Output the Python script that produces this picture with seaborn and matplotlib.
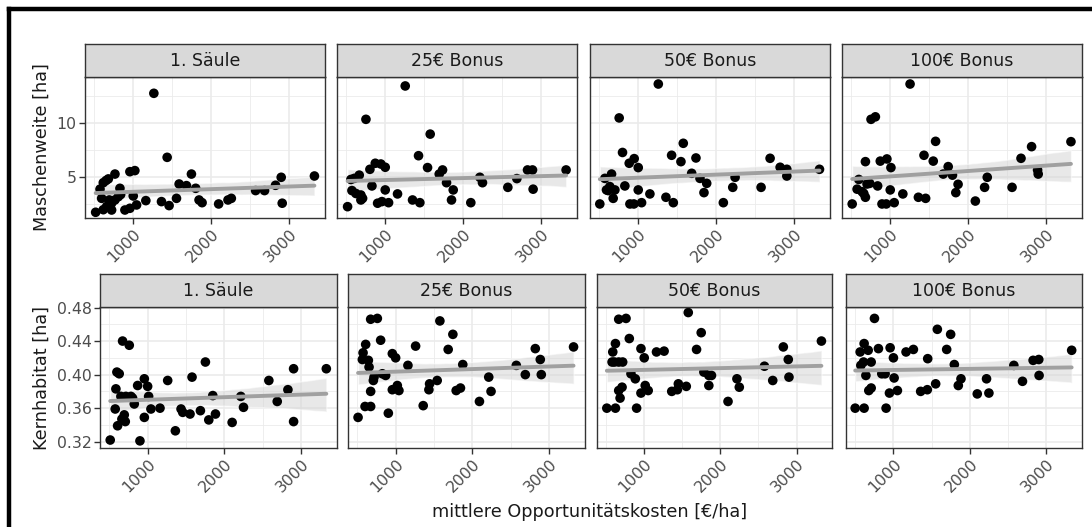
"""
Facetted scatter plots with linear fit: Maschenweite / Kernhabitat vs. Opportunitaetskosten.
"""

import numpy as np
import pandas as pd
import matplotlib
matplotlib.use("Agg")
import matplotlib.pyplot as plt
import seaborn as sns

### Data ###

FACETS = ["1. Säule", "25€ Bonus", "50€ Bonus", "100€ Bonus"]

# Maschenweite [ha]
mw_x_saeule = [517, 573, 594, 615, 650, 680, 765, 615, 658, 722, 722, 692, 765, 829, 838, 808,
               893, 957, 957, 1021, 1000, 1043, 1162, 1265, 1363, 1436, 1461, 1556, 1590, 1684,
               1748, 1803, 1846, 1885, 2098, 2218, 2261, 2573, 2688, 2829, 2902, 2915, 3329]
mw_y_saeule = [1.76, 3.9, 3.05, 4.5, 4.7, 4.85, 5.3, 2.0, 2.3, 2.6, 1.97, 2.9, 2.9, 3.98, 3.4, 3.2,
               1.97, 2.13, 5.52, 5.62, 3.27, 2.44, 2.84, 12.78, 2.75, 6.85, 2.38, 3.05, 4.38, 4.23,
               5.3, 3.98, 2.9, 2.65, 2.53, 2.9, 3.05, 3.77, 3.77, 4.26, 5.0, 2.6, 5.12]

mw_x_25 = [516, 559, 602, 666, 572, 623, 687, 709, 687, 752, 803, 829, 872, 944, 1000, 1000,
           902, 957, 1043, 1158, 1257, 1351, 1445, 1428, 1544, 1578, 1694, 1737, 1788, 1874,
           1852, 2100, 2216, 2250, 2576, 2692, 2829, 2893, 2901, 3325]
mw_y_25 = [2.28, 4.8, 4.9, 5.2, 3.77, 3.5, 3.36, 3.05, 2.9, 10.37, 5.74, 4.2, 6.3, 6.23, 5.93, 3.83,
           2.6, 2.75, 2.65, 3.46, 13.46, 2.9, 2.65, 7.0, 5.9, 9.0, 5.3, 5.68, 4.5, 3.83,
           2.9, 2.65, 5.0, 4.5, 4.07, 4.88, 5.68, 5.68, 3.9, 5.68]

mw_x_50 = [506, 571, 657, 592, 635, 678, 700, 614, 755, 798, 828, 884, 948, 1000, 1000, 893,
           944, 1043, 1150, 1258, 1356, 1451, 1429, 1549, 1579, 1687, 1742, 1794, 1880, 1845,
           2094, 2215, 2245, 2579, 2695, 2824, 2910, 2910, 3330]
mw_y_50 = [2.53, 4.9, 5.3, 3.83, 4.14, 3.05, 3.83, 3.77, 10.5, 7.3, 4.2, 6.3, 6.73, 5.9, 3.83, 2.53,
           2.53, 2.65, 3.46, 13.64, 3.15, 2.65, 7.04, 6.45, 8.15, 5.37, 6.79, 4.9, 4.44, 3.58,
           2.65, 4.07, 5.0, 4.07, 6.76, 5.93, 5.74, 5.12, 5.74]

mw_x_100 = [511, 596, 574, 638, 702, 736, 681, 660, 681, 753, 809, 838, 872, 957, 1009, 1000,
            894, 949, 1051, 1162, 1255, 1362, 1455, 1434, 1553, 1583, 1681, 1745, 1800, 1872,
            1843, 2094, 2213, 2247, 2566, 2681, 2817, 2894, 2902, 3323]
mw_y_100 = [2.53, 4.8, 3.9, 3.67, 4.38, 4.44, 3.15, 3.5, 6.45, 10.37, 10.6, 4.2, 6.5, 6.7, 5.9, 3.83,
            2.53, 2.53, 2.65, 3.46, 13.64, 3.15, 3.05, 7.04, 6.5, 8.33, 5.3, 5.99, 5.2, 4.35,
            3.58, 2.8, 4.07, 5.0, 4.07, 6.76, 7.84, 5.68, 5.3, 8.3]

# Kernhabitat [ha]
kh_x_saeule = [513, 578, 587, 600, 630, 609, 674, 761, 665, 696, 709, 652, 717, 783, 804, 826,
               870, 957, 1000, 1013, 957, 900, 1043, 1161, 1261, 1361, 1435, 1457, 1552, 1578,
               1687, 1752, 1796, 1848, 1883, 2100, 2213, 2248, 2578, 2687, 2826, 2900, 2900, 3326]
kh_y_saeule = [0.322, 0.359, 0.383, 0.403, 0.401, 0.339, 0.440, 0.435, 0.347, 0.352, 0.344, 0.374,
               0.374, 0.374, 0.372, 0.365, 0.387, 0.395, 0.386, 0.374, 0.349, 0.321, 0.359, 0.360,
               0.393, 0.333, 0.359, 0.355, 0.353, 0.397, 0.357, 0.415, 0.346, 0.375, 0.353, 0.343,
               0.374, 0.361, 0.393, 0.368, 0.382, 0.407, 0.344, 0.407]

kh_x_25 = [511, 567, 576, 610, 645, 654, 675, 762, 805, 675, 602, 675, 710, 719, 827, 870, 905,
           957, 1000, 957, 1022, 1043, 1160, 1260, 1359, 1433, 1442, 1541, 1576, 1684, 1745, 1788,
           1844, 1874, 2091, 2212, 2242, 2571, 2688, 2818, 2883, 2896, 3316]
kh_y_25 = [0.349, 0.418, 0.426, 0.436, 0.417, 0.409, 0.466, 0.467, 0.441, 0.380, 0.362, 0.362,
           0.393, 0.397, 0.401, 0.399, 0.354, 0.425, 0.420, 0.382, 0.387, 0.381, 0.411, 0.434,
           0.363, 0.382, 0.389, 0.393, 0.464, 0.430, 0.448, 0.381, 0.384, 0.412, 0.368, 0.397,
           0.380, 0.411, 0.400, 0.431, 0.418, 0.400, 0.433]

kh_x_50 = [509, 622, 587, 622, 578, 609, 665, 717, 665, 761, 804, 826, 883, 665, 709, 683, 900,
           957, 1000, 957, 1013, 1052, 1161, 1261, 1361, 1435, 1448, 1552, 1578, 1687, 1748, 1783,
           1848, 1883, 1848, 2100, 2217, 2248, 2578, 2687, 2826, 2891, 2900, 3326]
kh_y_50 = [0.360, 0.360, 0.427, 0.437, 0.415, 0.415, 0.415, 0.415, 0.466, 0.467, 0.443, 0.401,
           0.395, 0.381, 0.385, 0.372, 0.360, 0.431, 0.420, 0.378, 0.387, 0.381, 0.427, 0.428,
           0.380, 0.382, 0.389, 0.386, 0.474, 0.430, 0.450, 0.403, 0.399, 0.399, 0.387, 0.368,
           0.395, 0.385, 0.410, 0.393, 0.433, 0.418, 0.397, 0.440]

kh_x_100 = [500, 617, 565, 617, 670, 574, 609, 709, 640, 752, 804, 848, 891, 678, 709, 904, 957,
            1000, 948, 1009, 1052, 1165, 1261, 1356, 1443, 1448, 1552, 1574, 1696, 1748, 1796,
            1848, 1883, 2096, 2217, 2248, 2574, 2687, 2826, 2900, 2904, 3330]
kh_y_100 = [0.360, 0.360, 0.427, 0.437, 0.429, 0.411, 0.415, 0.415, 0.399, 0.467, 0.431, 0.401,
            0.401, 0.381, 0.384, 0.360, 0.432, 0.420, 0.378, 0.396, 0.381, 0.427, 0.430, 0.380,
            0.382, 0.419, 0.389, 0.454, 0.430, 0.448, 0.412, 0.387, 0.395, 0.377, 0.395, 0.378,
            0.411, 0.392, 0.417, 0.418, 0.399, 0.429]

MW_DATA = [(mw_x_saeule, mw_y_saeule), (mw_x_25, mw_y_25), (mw_x_50, mw_y_50), (mw_x_100, mw_y_100)]
KH_DATA = [(kh_x_saeule, kh_y_saeule), (kh_x_25, kh_y_25), (kh_x_50, kh_y_50), (kh_x_100, kh_y_100)]

### Layout (pixels) ###

W, H = 1092, 527
TOP_PANELS = [(85, 325), (337, 577), (590, 830), (842, 1082)]
BOTTOM_PANELS = [(100, 337), (348, 585), (597, 832), (846, 1082)]
TOP_Y = (77, 218)
BOTTOM_Y = (307, 448)
STRIP_H = 33

GRID = "#EBEBEB"
BORDER = "#333333"
TICK_COL = "#4D4D4D"

sns.set_theme(style="white")
plt.rcParams["font.family"] = ["DejaVu Sans"]

fig = plt.figure(figsize=(W / 100, H / 100), dpi=100)


def px_axes(x0, x1, y0, y1):
    return fig.add_axes([x0 / W, 1 - y1 / H, (x1 - x0) / W, (y1 - y0) / H])


def draw_row(panels, yrange, data, ylim, yticks, yminor, yfmt, ylabel):
    for i, ((x0, x1), (xs, ys)) in enumerate(zip(panels, data)):
        ax = px_axes(x0, x1, yrange[0], yrange[1])
        df = pd.DataFrame({"x": xs, "y": ys})

        ax.set_xlim(380, 3465)
        ax.set_ylim(*ylim)
        ax.set_xticks([1000, 2000, 3000])
        ax.set_xticks([500, 1500, 2500], minor=True)
        ax.set_yticks(yticks)
        ax.set_yticks(yminor, minor=True)
        ax.grid(True, which="major", color=GRID, lw=1.2, zorder=0)
        ax.grid(True, which="minor", color=GRID, lw=0.6, zorder=0)
        ax.set_axisbelow(True)

        sns.scatterplot(data=df, x="x", y="y", ax=ax, color="black", s=48,
                        edgecolor="none", zorder=3)
        sns.regplot(data=df, x="x", y="y", ax=ax, scatter=False, ci=95, seed=1,
                    color="#A0A0A0", line_kws={"lw": 2.8, "zorder": 4})
        for coll in ax.collections[1:]:
            coll.set_facecolor("#D3D3D3")
            coll.set_alpha(0.5)
            coll.set_zorder(2)

        ax.set_xlim(380, 3465)
        ax.set_ylim(*ylim)
        ax.set_xlabel("")
        ax.set_ylabel("")
        ax.set_xticklabels(["1000", "2000", "3000"], rotation=45, ha="right",
                           rotation_mode="anchor", color=TICK_COL, fontsize=11.3)
        ax.tick_params(axis="both", which="major", length=4, width=1, color=BORDER,
                       bottom=True, left=(i == 0), pad=2)
        ax.tick_params(axis="both", which="minor", length=0)
        if i == 0:
            ax.set_yticklabels([yfmt(v) for v in yticks], color=TICK_COL, fontsize=11.3)
            ax.set_ylabel(ylabel, fontsize=12.7, color="#1A1A1A", labelpad=4)
        else:
            ax.set_yticklabels([])
        for sp in ax.spines.values():
            sp.set_color(BORDER)
            sp.set_linewidth(1.0)
            sp.set_visible(True)

        strip = px_axes(x0, x1, yrange[0] - STRIP_H, yrange[0])
        strip.set_facecolor("#D9D9D9")
        strip.set_xticks([])
        strip.set_yticks([])
        for sp in strip.spines.values():
            sp.set_color(BORDER)
            sp.set_linewidth(1.0)
        strip.text(0.5, 0.5, FACETS[i], ha="center", va="center",
                   fontsize=12.5, color="#1A1A1A", transform=strip.transAxes)


draw_row(TOP_PANELS, TOP_Y, MW_DATA, (1.23, 14.29), [5, 10], [2.5, 7.5, 12.5],
         lambda v: f"{v:g}", "Maschenweite [ha]")
draw_row(BOTTOM_PANELS, BOTTOM_Y, KH_DATA, (0.3125, 0.4806),
         [0.32, 0.36, 0.40, 0.44, 0.48], [0.34, 0.38, 0.42, 0.46],
         lambda v: f"{v:.2f}", "Kernhabitat [ha]")

fig.text(590 / W, 1 - 512 / H, "mittlere Opportunitätskosten [€/ha]",
         ha="center", va="center", fontsize=12.7, color="#1A1A1A")

# black frame on the left and top edge
fig.add_artist(plt.Line2D([9 / W, 9 / W], [0, 1 - 9 / H], color="black", lw=3.2,
                          transform=fig.transFigure, solid_capstyle="projecting"))
fig.add_artist(plt.Line2D([9 / W, 1], [1 - 9 / H, 1 - 9 / H], color="black", lw=3.2,
                          transform=fig.transFigure, solid_capstyle="projecting"))

fig.savefig("out.png", dpi=100, facecolor="white")
